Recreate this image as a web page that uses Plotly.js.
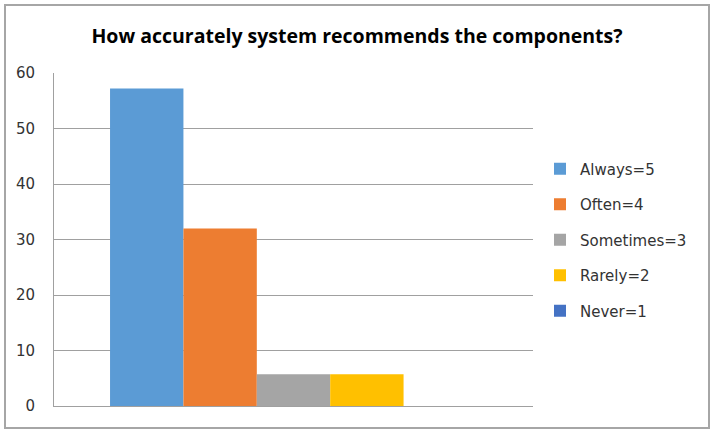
<!DOCTYPE html>
<html>
<head>
<meta charset="utf-8">
<script src="https://cdn.plot.ly/plotly-3.0.1.min.js"></script>
<style>
  html, body { margin: 0; padding: 0; background: #fff; }
  #wrap { position: relative; width: 714px; height: 434px; }
  #chart { position: absolute; left: 0; top: 0; width: 714px; height: 434px; }
  #frame { position: absolute; left: 4px; top: 4px; width: 702px; height: 421px;
           border: 2px solid #a6a6a6; pointer-events: none; }
</style>
</head>
<body>
<div id="wrap">
  <div id="chart"></div>
  <div id="frame"></div>
</div>
<script>
const category = ["Response"];
const seriesNames = ["Always=5", "Often=4", "Sometimes=3", "Rarely=2", "Never=1"];
const seriesValues = [57.2, 32, 5.7, 5.7, 0];
const seriesColors = ["#5B9BD5", "#ED7D31", "#A5A5A5", "#FFC000", "#4472C4"];
const yTicks = [0, 10, 20, 30, 40, 50, 60];
const titleText = "How accurately system recommends the components?";

const traces = seriesNames.map((name, i) => ({
  type: "bar",
  name: name,
  x: category,
  y: [seriesValues[i]],
  marker: { color: seriesColors[i], line: { width: 0 } },
  legendgroup: "g" + i,
  hoverinfo: "name+y"
}));

const layout = {
  width: 714,
  height: 434,
  paper_bgcolor: "#ffffff",
  plot_bgcolor: "#ffffff",
  margin: { l: 54.3, r: 180.7, t: 72.7, b: 28.3, pad: 0 },
  title: {
    text: "<b>" + titleText + "</b>",
    font: { family: "Open Sans, sans-serif", size: 19.5, color: "#000000" },
    x: 0.5, xref: "container", xanchor: "center",
    y: 1 - 36 / 434, yref: "container", yanchor: "middle"
  },
  barmode: "group",
  bargap: 0.234,
  bargroupgap: 0,
  showlegend: true,
  legend: {
    x: 540 / 714, xref: "container", xanchor: "left",
    y: 1 - 240 / 434, yref: "container", yanchor: "middle",
    font: { family: "DejaVu Sans, sans-serif", size: 15, color: "#333333" },
    traceorder: "grouped",
    tracegroupgap: 13,
    bgcolor: "rgba(0,0,0,0)"
  },
  xaxis: {
    showticklabels: false,
    showgrid: false,
    zeroline: false,
    showline: true,
    linecolor: "#a0a0a0",
    linewidth: 1,
    range: [-0.5, 0.5],
    fixedrange: true
  },
  yaxis: {
    range: [0, 60],
    tickvals: yTicks,
    ticktext: yTicks.map(String),
    showgrid: true,
    gridcolor: "#a0a0a0",
    gridwidth: 1,
    zeroline: false,
    showline: true,
    linecolor: "#a0a0a0",
    linewidth: 1,
    ticks: "",
    ticklabelstandoff: 15,
    tickfont: { family: "DejaVu Sans, sans-serif", size: 15, color: "#333333" },
    fixedrange: true
  }
};

Plotly.newPlot("chart", traces, layout, { displayModeBar: false, staticPlot: true });
</script>
</body>
</html>
